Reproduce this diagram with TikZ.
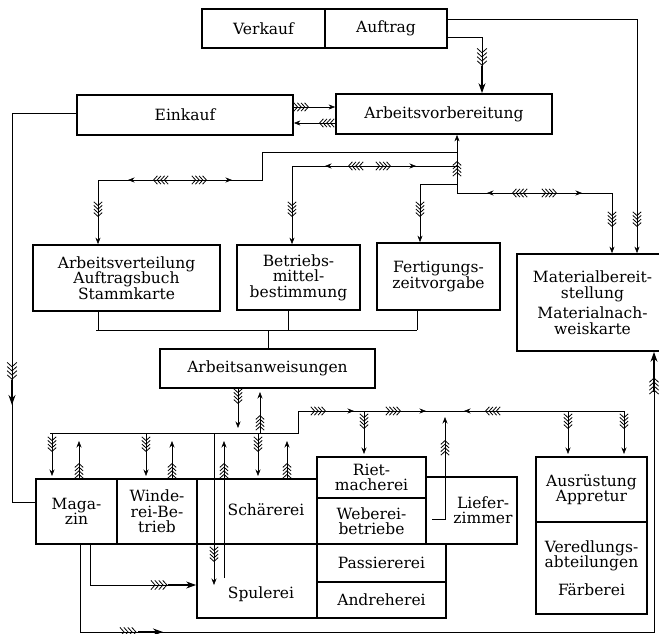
\documentclass[tikz,border=0pt]{standalone}
\usepackage{fontspec}
\setmainfont{DejaVu Serif}
\usetikzlibrary{arrows.meta}
\newcommand\bxfont{\fontsize{15.5}{15.5}\selectfont}
\tikzset{
  box/.style={draw, line width=1.7pt, inner sep=0pt, align=center, font=\bxfont},
  txt/.style={inner sep=0pt, align=center, font=\bxfont},
  ln/.style={line width=0.6pt},
  tip/.style={ln, -{Stealth[length=6.5pt,width=5pt]}},
  bigtip/.style={line width=1.2pt, -{Stealth[length=10pt,width=7pt]}},
  fth/.pic={\draw[line width=0.8pt] \foreach \d in {-5.4,-1.8,1.8,5.4}{({\d-3.8},-4.2) -- (\d,0) -- ({\d-3.8},4.2)};},
}
\newcommand\fD[2]{\pic[rotate=-90] at (#1,#2) {fth};}
\newcommand\fU[2]{\pic[rotate=90] at (#1,#2) {fth};}
\newcommand\fL[2]{\pic[rotate=180] at (#1,#2) {fth};}
\newcommand\fR[2]{\pic at (#1,#2) {fth};}
\newcommand\rbox[7][]{\node[box,minimum width={(#5-#3)*1pt},minimum height={(#6-#4)*1pt},#1] (#2) at ({(#3+#5)/2},{(#4+#6)/2}) {#7};}
\begin{document}
\begin{tikzpicture}[x=1pt,y=-1pt]
\useasboundingbox (0,0) rectangle (659,634);
\clip (0,0) rectangle (659,634);
% boxes
\rbox{verkauf}{202}{9}{325}{48}{Verkauf}
\rbox{auftrag}{325}{9}{447}{48}{Auftrag}
\rbox{einkauf}{77}{95}{293}{135}{Einkauf}
\rbox{av}{336}{94}{552}{134}{Arbeitsvorbereitung}
\rbox{arbv}{33}{245}{220}{311}{Arbeitsverteilung\\Auftragsbuch\\Stammkarte}
\rbox{betr}{237}{245}{360}{310}{Betriebs-\\mittel-\\bestimmung}
\rbox{fert}{377}{243}{500}{310}{Fertigungs-\\zeitvorgabe}
\rbox{mat}{517}{254}{668}{351}{Materialbereit-\\stellung\\[5pt]Materialnach-\\weiskarte}
\rbox{aa}{160}{349}{375}{388}{Arbeitsanweisungen}
\rbox{magazin}{36}{479}{117}{544}{Maga-\\zin}
\rbox{winderei}{117}{479}{197}{544}{Winde-\\rei-Be-\\trieb}
\rbox{schaer}{197}{479}{317}{544}{}
\node[txt] (schaertxt) at (266,510) {Schärerei};
\rbox{riet}{317}{457}{426}{498}{Riet-\\macherei}
\rbox{weber}{317}{498}{426}{544}{Weberei-\\betriebe}
\rbox{liefer}{426}{477}{517}{544}{}
\node[txt] (liefertxt) at (483,510) {Liefer-\\zimmer};
\rbox{spul}{197}{544}{317}{618}{}
\node[txt] (spultxt) at (261,594) {Spulerei};
\rbox{pass}{317}{544}{446}{582}{Passiererei}
\rbox{andre}{317}{582}{446}{618}{Andreherei}
\rbox{ausr}{536}{457}{647}{522}{Ausrüstung\\Appretur}
\rbox{vered}{536}{522}{647}{614}{Veredlungs-\\abteilungen\\[12pt]Färberei}
% top connectors
\draw[tip] (auftrag.east |- 0,19) -| (637,0 |- mat.north);
\fD{637}{221}
\draw[ln] (auftrag.east |- 0,37) -| (482,68);
\draw[bigtip] (482,66) -- (482,0 |- av.north);
\pic[rotate=-90,scale=1.15] at (482,59) {fth};
\draw[tip] (einkauf.east |- 0,107) -- (av.west |- 0,107);
\fR{303}{107}
\draw[tip] (av.west |- 0,123) -- (einkauf.east |- 0,123);
\fL{325}{123}
% left long line
\draw[ln] (einkauf.west |- 0,113) -| (12,502) -- (magazin.west |- 0,502);
\draw[bigtip] (12,380) -- (12,405);
\pic[rotate=-90,scale=1.15] at (12,373) {fth};
% AV bottom system
\draw[tip] (457,193) -- (457,0 |- av.south);
\fU{457}{167}
\draw[tip] (457,152) -| (262,180) -| (98,0 |- arbv.north);
\draw[tip] (140,180) -- (128,180);
\fL{159}{180}
\fR{201}{180}
\draw[tip] (215,180) -- (232,180);
\fD{98}{211}
\draw[tip] (457,166) -| (292,0 |- betr.north);
\draw[tip] (337,166) -- (325,166);
\fL{354}{166}
\fR{385}{166}
\draw[tip] (400,166) -- (416,166);
\fD{292}{211}
\draw[tip] (457,184) -| (420,0 |- fert.north);
\fD{420}{211}
\draw[tip] (457,193) -| (612,0 |- mat.north);
\draw[tip] (499,193) -- (487,193);
\fL{518}{193}
\fR{551}{193}
\draw[tip] (566,193) -- (582,193);
\fD{612}{221}
% to Arbeitsanweisungen
\draw[ln] (98,0 |- arbv.south) -- (98,330);
\draw[ln] (288,0 |- betr.south) -- (288,330);
\draw[ln] (417,0 |- fert.south) -- (417,330);
\draw[ln] (96,330) -- (417,330);
\draw[ln] (268,330) -- (268,0 |- aa.north);
% below Arbeitsanweisungen
\draw[tip] (238,0 |- aa.south) -- (238,428);
\fD{238}{398}
\draw[tip] (260,433) -- (260,392);
\fU{260}{421}
\draw[ln] (50,433) -- (298,433) -- (298,411) -- (624,411);
\fR{320}{411}
\draw[tip] (340,411) -- (354,411);
\fR{395}{411}
\draw[tip] (410,411) -- (426,411);
\draw[tip] (476,411) -- (464,411);
\fL{491}{411}
% row arrows
\draw[tip] (52,433) -- (52,476); \fD{52}{446}
\draw[tip] (79,0 |- magazin.north) -- (79,441); \fU{79}{469}
\draw[tip] (146,433) -- (146,476); \fD{146}{446}
\draw[tip] (172,0 |- winderei.north) -- (172,441); \fU{172}{469}
\draw[tip] (214,433) -- (214,585); \fD{214}{556}
\draw[tip] (224,578) -- (224,441); \fU{224}{469}
\draw[tip] (258,433) -- (258,476); \fD{258}{446}
\draw[tip] (287,0 |- schaer.north) -- (287,441); \fU{287}{469}
\draw[tip] (364,411) -- (364,454); \fD{364}{423}
\draw[tip] (432,519) -- (445,519) -- (445,417); \fU{445}{446}
\draw[tip] (568,411) -- (568,454); \fD{568}{423}
\draw[tip] (624,411) -- (624,454); \fD{624}{423}
% bottom lines
\draw[ln] (80,0 |- magazin.south) -- (80,632) -- (654,632) -- (654,370);
\draw[bigtip] (654,392) -- (654,0 |- mat.south);
\pic[rotate=90,scale=1.1] at (654,384) {fth};
\draw[bigtip] (138,632) -- (163,632);
\pic[scale=1.1] at (130,632) {fth};
\draw[ln] (90,0 |- magazin.south) |- (170,585);
\draw[bigtip] (168,585) -- (spul.west |- 0,585);
\pic[scale=1.1] at (161,585) {fth};
\end{tikzpicture}
\end{document}
